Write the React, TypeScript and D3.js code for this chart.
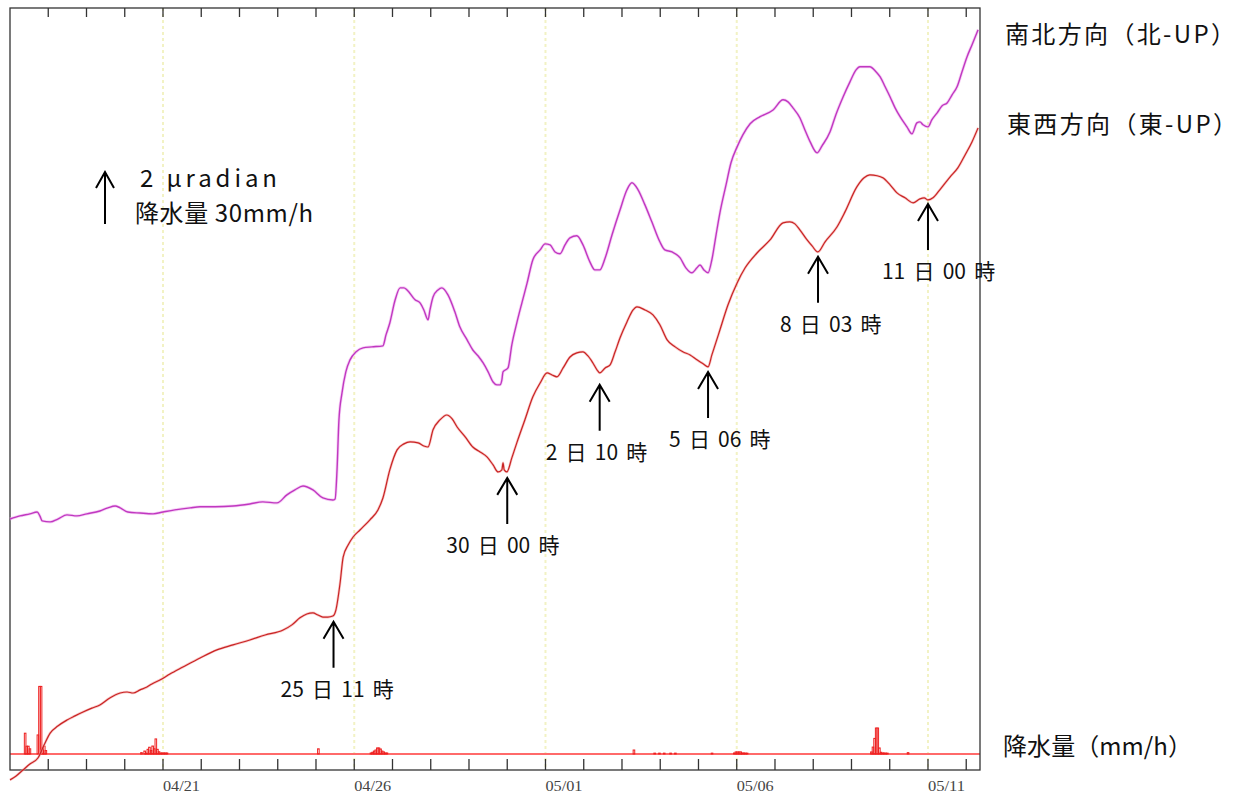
import React from "react";
import * as d3 from "d3";

// ---------- data ----------
// time in days since 2013-04-17 00:00, tilt in μradian (relative)
const nsDays = [0,0.26,0.52,0.71,0.78,0.84,1.05,1.25,1.49,1.75,2.01,2.35,2.56,2.75,2.88,3.08,3.4,3.74,4,4.31,4.71,4.97,5.36,5.83,6.27,6.61,6.98,7.24,7.45,7.66,7.92,8.18,8.44,8.5,8.55,8.6,8.68,8.78,8.89,9.05,9.23,9.46,9.75,9.83,9.93,10.07,10.2,10.3,10.38,10.59,10.72,10.82,10.93,10.98,11.06,11.19,11.29,11.45,11.63,11.76,11.95,12.1,12.24,12.37,12.5,12.63,12.73,12.81,12.86,12.89,13.02,13.12,13.25,13.39,13.52,13.67,13.86,13.99,14.12,14.25,14.38,14.51,14.64,14.82,14.98,15.16,15.29,15.42,15.56,15.74,15.95,16.13,16.26,16.42,16.6,16.78,16.99,17.12,17.31,17.52,17.67,17.83,17.96,18.04,18.14,18.25,18.35,18.46,18.56,18.72,18.85,19.01,19.16,19.35,19.61,19.95,20.21,20.34,20.47,20.65,20.78,20.92,21.1,21.23,21.44,21.59,21.78,21.96,22.12,22.22,22.48,22.64,22.75,22.88,23.01,23.14,23.27,23.45,23.58,23.71,23.79,23.87,24,24.1,24.24,24.37,24.5,24.63,24.76,24.89,25.02,25.15,25.31];
const nsValues = [9.65,9.77,9.85,9.92,9.77,9.58,9.54,9.65,9.81,9.77,9.85,9.96,10.08,10.15,10.08,9.92,9.88,9.85,9.92,10,10.08,10.12,10.12,10.15,10.23,10.31,10.27,10.58,10.77,10.92,10.77,10.46,10.38,10.42,11.54,13.46,14.5,15.31,15.77,16.08,16.23,16.27,16.31,16.73,17.19,18.08,18.54,18.54,18.46,18.08,17.96,17.69,17.31,17.69,18.19,18.46,18.54,18.27,17.62,17.04,16.54,16.15,15.92,15.65,15.31,14.92,14.81,14.81,15,15.31,15.46,16.35,17.19,18,18.73,19.62,20,20.23,20.19,19.92,19.85,20.19,20.46,20.54,20.19,19.54,19.23,19.23,19.69,20.58,21.54,22.31,22.58,22.31,21.73,21.08,20.31,20,19.92,19.69,19.31,19.12,19.31,19.42,19.23,19.12,19.62,20.58,21.42,22.5,23.35,23.96,24.42,24.85,25.12,25.38,25.77,25.69,25.46,25.08,24.62,24.15,23.73,24,24.54,25.19,25.88,26.46,26.92,27.04,27.04,26.85,26.65,26.27,25.88,25.46,25.12,24.73,24.46,24.88,24.92,24.81,24.73,25,25.27,25.54,25.65,25.96,26.27,26.85,27.42,27.88,28.46];

const ewDays = [0,0.16,0.34,0.52,0.73,0.89,1.05,1.25,1.49,1.7,1.91,2.14,2.35,2.61,2.88,3.06,3.22,3.4,3.58,3.71,3.92,4.18,4.52,4.97,5.41,5.83,6.27,6.67,7.14,7.37,7.58,7.76,7.92,8.05,8.18,8.31,8.44,8.52,8.63,8.71,8.84,8.97,9.15,9.41,9.62,9.75,9.93,10.12,10.3,10.46,10.67,10.82,10.93,11.06,11.24,11.42,11.56,11.69,11.9,12.1,12.29,12.47,12.63,12.76,12.86,12.89,12.92,12.99,13.12,13.25,13.46,13.67,13.86,14.04,14.17,14.3,14.46,14.64,14.82,14.98,15.11,15.24,15.35,15.42,15.56,15.69,15.82,15.95,16.13,16.29,16.39,16.6,16.81,16.99,17.18,17.39,17.59,17.78,17.96,18.12,18.25,18.35,18.46,18.56,18.77,19.01,19.22,19.53,19.87,20.21,20.39,20.52,20.65,20.84,20.97,21.12,21.31,21.62,21.83,22.14,22.33,22.48,22.67,22.82,23.01,23.19,23.4,23.61,23.79,23.9,24,24.13,24.31,24.58,24.78,24.97,25.15,25.31];
const ewValues = [-0.38,-0.23,0,0.23,0.46,0.96,1.42,1.69,1.92,2.08,2.23,2.38,2.5,2.77,2.96,3,2.96,3.08,3.19,3.31,3.46,3.69,3.96,4.31,4.62,4.81,5,5.19,5.38,5.58,5.85,6,6.04,5.96,5.88,5.88,5.92,6.15,7.19,8.19,8.65,8.96,9.23,9.62,10,10.46,11.54,12.31,12.54,12.62,12.58,12.46,12.42,13.08,13.46,13.65,13.5,13.19,12.81,12.42,12.23,12.04,11.73,11.46,11.54,11.81,11.54,11.46,12,12.58,13.46,14.35,14.88,15.27,15.19,15.12,15.46,15.88,16.04,16.08,15.92,15.65,15.38,15.27,15.46,15.58,16.08,16.62,17.23,17.69,17.81,17.69,17.5,17.12,16.54,16.27,16.08,15.96,15.77,15.62,15.5,15.96,16.46,16.92,17.88,18.73,19.31,19.88,20.38,21.04,21.08,21,20.77,20.38,20.15,19.92,20.31,20.88,21.46,22.42,22.77,22.88,22.85,22.77,22.5,22.19,22,21.81,21.96,22,21.92,22,22.31,22.81,23.15,23.65,24.15,24.69];

// hourly rainfall: hour since 2013-04-17 00:00, mm/h
const rainHours = [9,10,11,12,17,18,19,20,21,22,82,84,85,86,87,88,89,90,91,92,93,94,95,96,97,98,193,226,227,228,229,230,231,232,233,234,235,236,391,404,407,410,414,417,440,454,455,456,457,458,459,460,461,462,540,541,542,543,544,545,546,547,548,549,550,563];
const rainValues = [12,4.5,4.5,3,11,39,39,3.5,4.5,2,0.8,1.7,0.5,2.7,3.9,2,4.6,3,8.7,2.7,1.3,0.6,0.6,0.6,0.6,0.6,3,0.6,1,1.7,2.3,3.5,3.5,2.9,1.7,1.2,0.6,0.6,2.3,0.5,0.5,0.5,0.5,0.5,0.5,0.6,1.2,1.2,1.2,1.2,0.6,0.6,0.5,0.5,1.2,4,9,15,15,3.5,1,0.6,0.6,0.5,0.5,0.8];

const annoTimes = ["2013-04-25T11:00Z","2013-04-30T00:00Z","2013-05-02T10:00Z","2013-05-05T06:00Z","2013-05-08T03:00Z","2013-05-11T00:00Z"];
const annoLabels = ["25 日 11 時","30 日 00 時","2 日 10 時","5 日 06 時","8 日 03 時","11 日 00 時"];

const seriesLabels = ["南北方向（北-UP）","東西方向（東-UP）","降水量（mm/h）"];
const scaleLabels = ["2 μradian","降水量 30mm/h"];

// ---------- layout ----------
const W = 1252, H = 796;
const L = 10, R = 980, T = 8, B = 770;
const START = Date.UTC(2013, 3, 17);
const DAY = 864e5;
const annoLayout = [
  { gap: 7, dx: -53 },
  { gap: 7, dx: -61 },
  { gap: 12, dx: -54 },
  { gap: 5, dx: -39 },
  { gap: 5, dx: -38 },
  { gap: 4, dx: -46 },
];

const cjk = "'Noto Sans CJK JP', 'Noto Sans', sans-serif";

function arrowPath(x: number, tip: number, len: number, hw: number, hh: number) {
  return `M${x},${tip + len} L${x},${tip} M${x - hw},${tip + hh} L${x},${tip} L${x + hw},${tip + hh}`;
}

export default function App() {
  const x = d3.scaleUtc().domain([new Date(START), new Date(START + 25.36 * DAY)]).range([L, R]);
  const yT = d3.scaleLinear().domain([0, 29.3]).range([B, T]);
  const yR = d3.scaleLinear().domain([0, 30]).range([754, 702]);

  const dayDate = (d: number) => new Date(START + d * DAY);
  const line = d3.line<[number, number]>()
    .x((p) => x(dayDate(p[0])))
    .y((p) => yT(p[1]))
    .curve(d3.curveMonotoneX);
  const nsPath = line(nsDays.map((d, i) => [d, nsValues[i]]) as [number, number][]) || "";
  const ewPath = line(ewDays.map((d, i) => [d, ewValues[i]]) as [number, number][]) || "";

  const ticks = x.ticks(d3.utcDay.every(1)!).filter((t) => x(t) > L + 1 && x(t) < R - 1);
  const labelTicks = ticks.filter((t) => Math.round((+t - START) / DAY) % 5 === 4);
  const fmt = d3.utcFormat("%m/%d");

  const ewAt = (t: number) => {
    const d = (t - START) / DAY;
    const i = d3.bisectLeft(ewDays, d);
    if (i <= 0) return ewValues[0];
    if (i >= ewDays.length) return ewValues[ewValues.length - 1];
    const f = (d - ewDays[i - 1]) / (ewDays[i] - ewDays[i - 1]);
    return ewValues[i - 1] + f * (ewValues[i] - ewValues[i - 1]);
  };

  const hourDate = (h: number) => new Date(START + h * 3600e3);

  return (
    <svg width={W} height={H} style={{ position: "absolute", left: 0, top: 0, background: "#fff" }}>
      <rect x={0} y={0} width={W} height={H} fill="#fff" />
      {/* grid lines */}
      {labelTicks.map((t, i) => (
        <line key={"g" + i} x1={x(t)} x2={x(t)} y1={T} y2={B} stroke="#f2f2c4" strokeWidth={2} strokeDasharray="3,3" />
      ))}
      {/* rain baseline */}
      <line x1={L} x2={R} y1={yR(0)} y2={yR(0)} stroke="#ff6a6a" strokeWidth={2} />
      {/* rain bars */}
      {rainHours.map((h, i) => {
        const x0 = x(hourDate(h)), x1 = x(hourDate(h + 1));
        const y0 = yR(rainValues[i]);
        return (
          <rect key={"r" + i} x={x0} y={y0} width={Math.max(0.8, x1 - x0)} height={yR(0) - y0}
            fill="none" stroke="#ee2020" strokeWidth={1} />
        );
      })}
      {/* frame */}
      <rect x={L} y={T} width={R - L} height={B - T} fill="none" stroke="#333" strokeWidth={1.3} />
      {/* ticks */}
      {ticks.map((t, i) => (
        <g key={"t" + i}>
          <line x1={x(t)} x2={x(t)} y1={B - 11} y2={B} stroke="#333" strokeWidth={1.3} />
          <line x1={x(t)} x2={x(t)} y1={T} y2={T + 9} stroke="#333" strokeWidth={1.3} />
        </g>
      ))}
      {labelTicks.map((t, i) => (
        <text key={"tl" + i} x={x(t)} y={791} fontFamily="'Liberation Serif', serif" fontSize={15}
          fill="#444" textLength={37} lengthAdjust="spacingAndGlyphs">{fmt(t)}</text>
      ))}
      {/* series */}
      <path d={nsPath} fill="none" stroke="#f0b0f0" strokeWidth={3} strokeLinejoin="round" opacity={0.6} />
      <path d={nsPath} fill="none" stroke="#c038c0" strokeWidth={1.4} strokeLinejoin="round" />
      <path d={ewPath} fill="none" stroke="#f5a0a0" strokeWidth={2.6} strokeLinejoin="round" opacity={0.6} />
      <path d={ewPath} fill="none" stroke="#c82424" strokeWidth={1.2} strokeLinejoin="round" />
      {/* annotations */}
      {annoTimes.map((s, i) => {
        const t = Date.parse(s);
        const ax = x(new Date(t));
        const tip = yT(ewAt(t)) + annoLayout[i].gap;
        const len = 46;
        return (
          <g key={"a" + i}>
            <path d={arrowPath(ax, tip, len, 10, 17)} fill="none" stroke="#000" strokeWidth={2} />
            <text x={ax + annoLayout[i].dx} y={tip + len + 29} fontFamily={cjk} fontSize={21} fill="#111"
              style={{ wordSpacing: "3.5px" }}>{annoLabels[i]}</text>
          </g>
        );
      })}
      {/* scale legend */}
      <path d={arrowPath(105, 172, 52, 9, 16)} fill="none" stroke="#000" strokeWidth={2} />
      <text x={140} y={187} fontFamily={cjk} fontSize={24} fill="#111" textLength={137} lengthAdjust="spacing">{scaleLabels[0]}</text>
      <text x={135} y={222} fontFamily={cjk} fontSize={24} fill="#111" textLength={178} lengthAdjust="spacing">{scaleLabels[1]}</text>
      {/* right labels */}
      <text x={1005} y={43} fontFamily={cjk} fontSize={24} fill="#111" textLength={230} lengthAdjust="spacing">{seriesLabels[0]}</text>
      <text x={1007} y={133} fontFamily={cjk} fontSize={24} fill="#111" textLength={230} lengthAdjust="spacing">{seriesLabels[1]}</text>
      <text x={1003} y={755} fontFamily={cjk} fontSize={24} fill="#111" textLength={189} lengthAdjust="spacing">{seriesLabels[2]}</text>
    </svg>
  );
}
